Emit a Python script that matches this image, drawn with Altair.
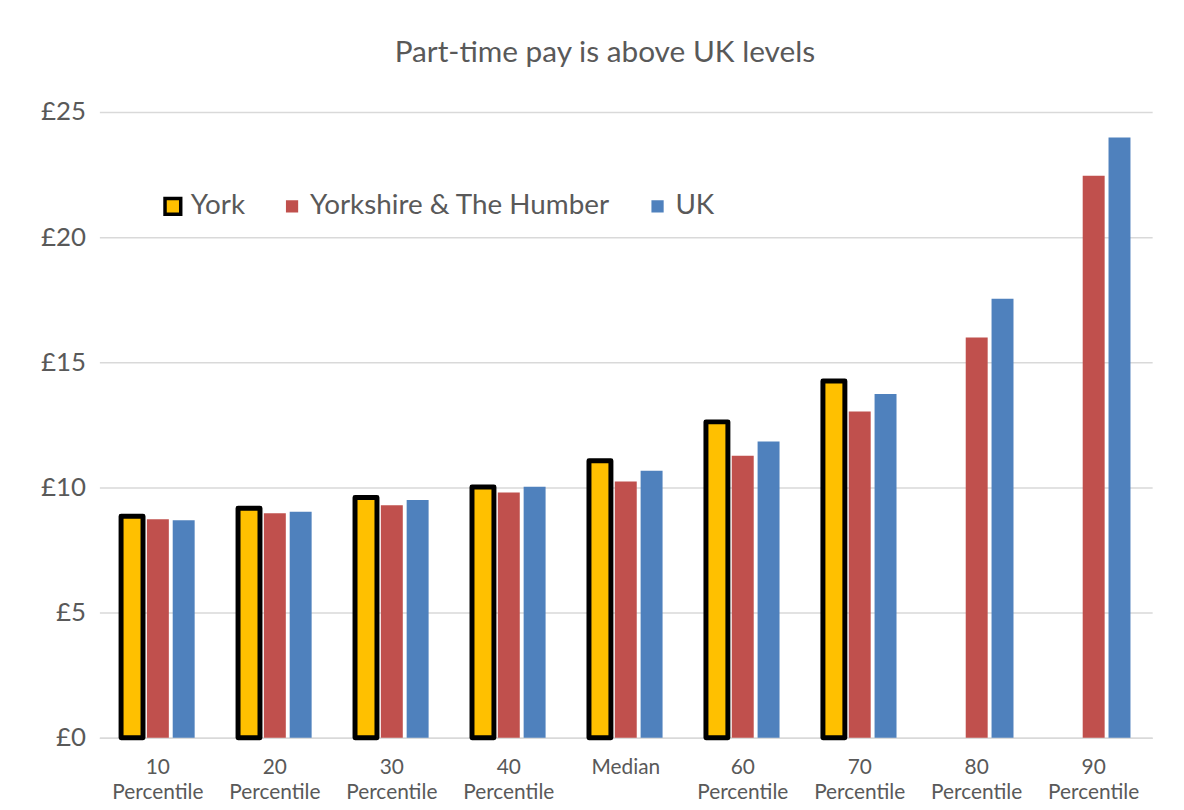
import altair as alt
import pandas as pd

categories = ["10 Percentile", "20 Percentile", "30 Percentile", "40 Percentile", "Median",
              "60 Percentile", "70 Percentile", "80 Percentile", "90 Percentile"]
series = ["York", "Yorkshire & The Humber", "UK"]
york = [8.85, 9.17, 9.6, 10.02, 11.07, 12.62, 14.25, None, None]
yorkshire = [8.73, 8.97, 9.29, 9.8, 10.24, 11.27, 13.03, 15.99, 22.45]
uk = [8.69, 9.03, 9.5, 10.03, 10.67, 11.84, 13.73, 17.54, 23.98]
colors = ["#FFC000", "#C0504D", "#4F81BD"]
strokes = ["#000000", "#FFFFFF", "#FFFFFF"]

rows = []
for name, vals in zip(series, [york, yorkshire, uk]):
    for c, v in zip(categories, vals):
        if v is not None:
            rows.append({"Category": c, "Series": name, "Pay": v})
df = pd.DataFrame(rows)

font = "Lato"
grey = "#595959"

chart = alt.Chart(df).mark_bar(strokeJoin="round").encode(
    x=alt.X("Category:N", sort=categories, title=None,
            scale=alt.Scale(paddingInner=0.34, paddingOuter=0.17),
            axis=alt.Axis(labelExpr="split(datum.label, ' ')", labelAngle=0,
                          labelFontSize=21, labelLineHeight=25, labelColor=grey,
                          labelFont=font, ticks=False, domainColor="#d9d9d9",
                          domainWidth=1.5, labelPadding=19)),
    xOffset=alt.XOffset("Series:N", sort=series,
                        scale=alt.Scale(paddingInner=0.15, paddingOuter=0.07)),
    y=alt.Y("Pay:Q", title=None,
            scale=alt.Scale(domain=[0, 25]),
            axis=alt.Axis(values=[0, 5, 10, 15, 20, 25], labelExpr="'£' + datum.value",
                          labelFontSize=26, labelColor=grey, labelFont=font,
                          ticks=False, domain=False, gridColor="#d9d9d9",
                          gridWidth=1.5, labelPadding=14)),
    fill=alt.Fill("Series:N", sort=series,
                  scale=alt.Scale(domain=series, range=colors),
                  legend=alt.Legend(title=None, orient="none", direction="horizontal",
                                    legendX=60, legendY=81, labelFontSize=28,
                                    labelColor=grey, labelFont=font, symbolType="square",
                                    symbolSize=250, symbolStrokeWidth=3.5,
                                    columnPadding=32, labelOffset=4, labelLimit=500,
                                    symbolOpacity=1)),
    stroke=alt.Stroke("Series:N", sort=series,
                      scale=alt.Scale(domain=series, range=strokes), legend=None),
    strokeWidth=alt.condition(alt.datum.Series == "York", alt.value(5), alt.value(0)),
).properties(
    width=1060, height=630,
    title=alt.TitleParams("Part-time pay is above UK levels", fontSize=30,
                          font=font, color=grey, fontWeight="normal",
                          anchor="middle", offset=31, dx=-21),
    autosize=alt.AutoSizeParams(type="none"),
    padding={"left": 92, "top": 102, "right": 24, "bottom": 62},
).configure_view(stroke=None).configure_legend(
    symbolStrokeColor="#000000"
)

chart.save("out.html", embed_options={"renderer": "svg", "actions": False})
